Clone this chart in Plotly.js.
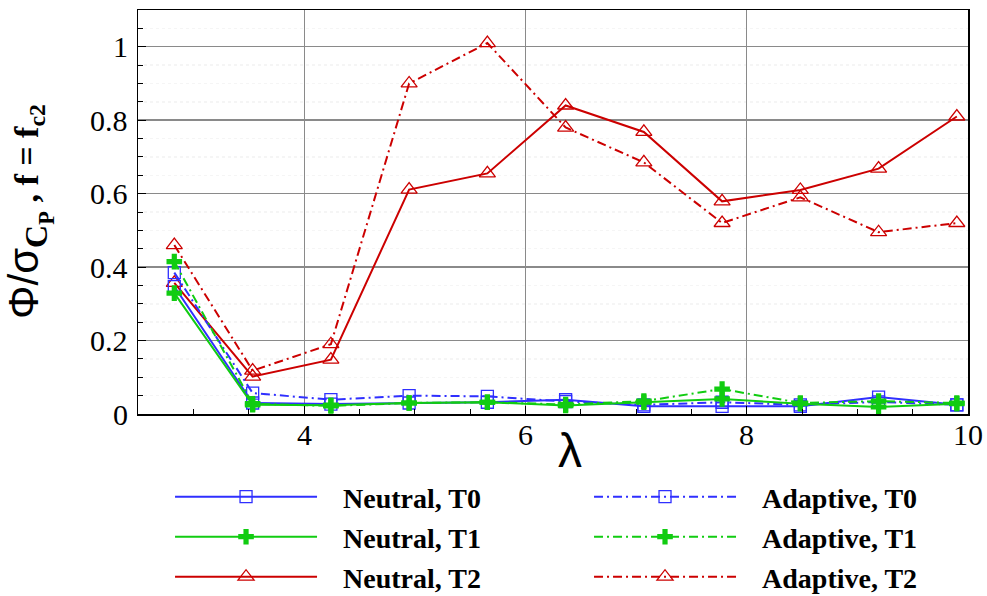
<!DOCTYPE html>
<html>
<head>
<meta charset="utf-8">
<script src="https://cdn.plot.ly/plotly-3.0.1.min.js"></script>
<style>html,body{margin:0;padding:0;background:#fff}#chart{width:987px;height:596px}</style>
</head>
<body>
<div id="chart"></div>
<script>
const lambda = [2.828, 3.536, 4.243, 4.950, 5.657, 6.364, 7.071, 7.778, 8.485, 9.192, 9.899];
const neutralT0 = [0.347, 0.030, 0.027, 0.030, 0.032, 0.039, 0.021, 0.021, 0.021, 0.046, 0.025];
const neutralT1 = [0.329, 0.025, 0.024, 0.030, 0.032, 0.023, 0.032, 0.041, 0.028, 0.019, 0.028];
const neutralT2 = [0.357, 0.102, 0.148, 0.611, 0.655, 0.840, 0.768, 0.579, 0.610, 0.668, 0.810];
const adaptiveT0 = [0.385, 0.057, 0.039, 0.050, 0.048, 0.034, 0.025, 0.032, 0.025, 0.033, 0.025];
const adaptiveT1 = [0.415, 0.028, 0.022, 0.030, 0.032, 0.026, 0.035, 0.068, 0.030, 0.035, 0.030];
const adaptiveT2 = [0.460, 0.118, 0.190, 0.900, 1.010, 0.780, 0.685, 0.520, 0.590, 0.495, 0.520];
const seriesNames = ["Neutral, T0", "Neutral, T1", "Neutral, T2", "Adaptive, T0", "Adaptive, T1", "Adaptive, T2"];
const xTickVals = [4, 6, 8, 10];
const xTickText = ["4", "6", "8", "10"];
const yTickVals = [0, 0.2, 0.4, 0.6, 0.8, 1];
const yTickText = ["0", "0.2", "0.4", "0.6", "0.8", "1"];
const xTitle = "λ";

const SERIF = "Liberation Serif";
const BLUE = "#2f2fff", GREEN = "#11cc11", RED = "#cc0000";
const NB = "\u00a0\u00a0\u00a0";
function tr(y, name, color, symbol, dash, legend, msize) {
  return {
    x: lambda, y: y, name: NB + name, type: "scatter", mode: "lines+markers",
    line: {color: color, width: 2, dash: dash},
    marker: {symbol: symbol, size: msize, color: color, line: {color: color, width: symbol === "cross" ? 0 : 1.3}},
    legend: legend
  };
}
const DD = "9px,4px,2px,4px";
const data = [
  tr(adaptiveT2, seriesNames[5], RED, "triangle-up-open", DD, "legend6", 14),
  tr(neutralT2, seriesNames[2], RED, "triangle-up-open", "solid", "legend5", 14),
  tr(adaptiveT0, seriesNames[3], BLUE, "square-open", DD, "legend2", 12),
  tr(neutralT0, seriesNames[0], BLUE, "square-open", "solid", "legend", 12),
  tr(adaptiveT1, seriesNames[4], GREEN, "cross", DD, "legend4", 13),
  tr(neutralT1, seriesNames[1], GREEN, "cross", "solid", "legend3", 13)
];

function leg(x, y) {
  return {x: x, y: y, xanchor: "left", yanchor: "middle", orientation: "v",
    font: {family: SERIF, size: 28, color: "#000", weight: "bold"},
    itemwidth: 142, bgcolor: "rgba(0,0,0,0)", borderwidth: 0, itemclick: false};
}
const c1 = 0.0386, c2 = 0.5434;
const r1 = -0.2054, r2 = -0.3045, r3 = -0.4035;

const tickFont = {family: SERIF, size: 30, color: "#000"};
const annotations = [];
xTickVals.forEach((v, i) => annotations.push({
  xref: "x", yref: "paper", x: v, y: 0, xanchor: "center", yanchor: "middle", yshift: -20,
  text: xTickText[i], showarrow: false, font: tickFont
}));
yTickVals.forEach((v, i) => annotations.push({
  xref: "paper", yref: "y", x: 0, y: v, xanchor: "right", yanchor: "middle", xshift: -8,
  text: yTickText[i], showarrow: false, font: tickFont
}));
annotations.push(
  {xref: "paper", yref: "paper", x: (570 - 138) / 830, y: (414 - 450) / 404, xanchor: "center", yanchor: "middle",
   text: xTitle, showarrow: false, font: {family: "Liberation Sans", size: 48, color: "#000"}},
  {xref: "paper", yref: "paper", x: (29 - 138) / 830, y: (414 - 212) / 404, xanchor: "center", yanchor: "middle",
   textangle: -90, showarrow: false,
   text: "Φ/σ<sub><b><span style=\"font-family:Liberation Serif;font-size:32px\">C<sub>P</sub></span></b></sub><b><span style=\"font-family:Liberation Serif;font-size:34px\"> , f = f<sub>c2</sub></span></b>",
   font: {family: "Liberation Sans", size: 42, color: "#000"}}
);

const layout = {
  width: 987, height: 596,
  font: {family: SERIF, size: 30, color: "#000"},
  margin: {l: 138, r: 19, t: 10, b: 182, autoexpand: false},
  paper_bgcolor: "#fff", plot_bgcolor: "#fff",
  showlegend: true,
  xaxis: {
    range: [2.5, 10], tick0: 0, dtick: 2, ticks: "inside", ticklen: 8, tickwidth: 1, tickcolor: "#000",
    showline: true, linecolor: "#000", linewidth: 1.5, mirror: true, showticklabels: false,
    showgrid: true, gridcolor: "#8a8a8a", gridwidth: 1, zeroline: false,
    minor: {dtick: 0.5, ticks: "inside", ticklen: 5, tickcolor: "#000", showgrid: false}
  },
  yaxis: {
    range: [0, 1.1], tick0: 0, dtick: 0.2, ticks: "inside", ticklen: 8, tickwidth: 1, tickcolor: "#000",
    showline: true, linecolor: "#000", linewidth: 1.5, mirror: true, showticklabels: false,
    showgrid: true, gridcolor: "#8a8a8a", gridwidth: 1.5, zeroline: false,
    minor: {dtick: 0.05, ticks: "inside", ticklen: 5, tickcolor: "#000", showgrid: true, gridcolor: "#f5f5f5", griddash: "dot"}
  },
  legend: leg(c1, r1), legend2: leg(c2, r1),
  legend3: leg(c1, r2), legend4: leg(c2, r2),
  legend5: leg(c1, r3), legend6: leg(c2, r3),
  annotations: annotations
};
Plotly.newPlot("chart", data, layout, {displayModeBar: false, staticPlot: true});
</script>
</body>
</html>
